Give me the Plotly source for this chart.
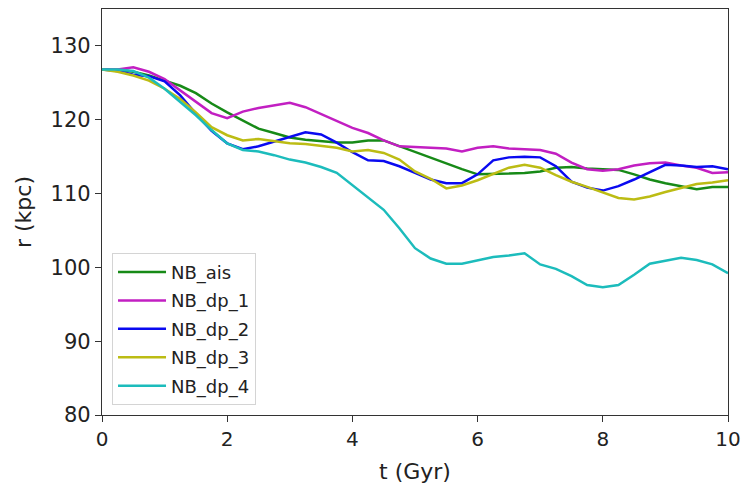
import plotly.graph_objects as go

t = [i * 0.25 for i in range(41)]

nb_ais = [126.8, 126.8, 126.5, 126.0, 125.3, 124.6, 123.6, 122.2, 121.0, 119.9,
          118.8, 118.2, 117.6, 117.3, 117.1, 116.9, 116.9, 117.2, 117.2, 116.4,
          115.7, 114.8, 114.0, 113.3, 112.6, 112.6, 112.7, 112.8, 113.0, 113.5,
          113.6, 113.4, 113.3, 113.2, 112.6, 111.9, 111.4, 111.0, 110.6, 110.9, 110.9]
nb_dp_1 = [126.8, 126.8, 127.1, 126.5, 125.5, 124.0, 122.4, 120.9, 120.2, 121.1,
           121.6, 122.0, 122.3, 121.7, 120.8, 119.8, 118.9, 118.2, 117.2, 116.4,
           116.3, 116.3, 116.1, 115.7, 116.2, 116.4, 116.1, 116.0, 115.9, 115.4,
           114.2, 113.3, 113.1, 113.3, 113.8, 114.1, 114.2, 113.8, 113.5, 112.8, 112.9]
nb_dp_2 = [126.8, 126.6, 126.1, 125.9, 125.2, 123.3, 120.8, 118.5, 116.8, 116.0,
           116.4, 117.0, 117.7, 118.3, 118.0, 116.9, 115.6, 114.5, 114.4, 113.7,
           112.8, 111.9, 111.4, 111.4, 112.6, 114.5, 114.9, 115.0, 114.9, 113.7,
           111.6, 110.8, 110.4, 111.0, 111.9, 112.9, 113.9, 113.8, 113.6, 113.7, 113.3]
nb_dp_3 = [126.8, 126.5, 126.0, 125.3, 124.2, 122.8, 121.0, 119.0, 117.9, 117.2,
           117.4, 117.1, 116.8, 116.7, 116.5, 116.2, 115.7, 115.9, 115.5, 114.6,
           113.0, 112.0, 110.7, 111.1, 111.8, 112.6, 113.5, 113.9, 113.5, 112.5,
           111.6, 110.9, 110.1, 109.4, 109.2, 109.6, 110.2, 110.7, 111.3, 111.5, 111.8]
nb_dp_4 = [126.8, 126.8, 126.6, 125.7, 124.2, 122.4, 120.6, 118.6, 116.8, 115.9,
           115.7, 115.2, 114.6, 114.2, 113.6, 112.8, 111.1, 109.4, 107.8, 105.3,
           102.6, 101.2, 100.5, 100.5, 101.0, 101.4, 101.6, 101.9, 100.4, 99.8,
           98.8, 97.6, 97.3, 97.6, 99.0, 100.5, 100.9, 101.3, 101.0, 100.4, 99.2]

names = ["NB_ais", "NB_dp_1", "NB_dp_2", "NB_dp_3", "NB_dp_4"]
series = [nb_ais, nb_dp_1, nb_dp_2, nb_dp_3, nb_dp_4]
colors = ["#178a17", "#c21fc2", "#0a0af0", "#bcbc14", "#1cbcbc"]

fig = go.Figure()
for n, s, c in zip(names, series, colors):
    fig.add_trace(go.Scatter(x=t, y=s, name=n, mode="lines", legendgroup=n,
                             line=dict(color=c, width=2.5)))

axis_common = dict(showgrid=False, zeroline=False, showline=True, linecolor="#333",
                   linewidth=1.2, mirror=True, ticks="outside", ticklen=6,
                   tickcolor="#333", automargin=False,
                   title_font=dict(size=22, color="#222"))

fig.update_xaxes(range=[0, 10], tickvals=[0, 2, 4, 6, 8, 10],
                 tickfont=dict(size=20, color="#222"),
                 title_text="t (Gyr)", title_standoff=13, **axis_common)
fig.update_yaxes(range=[80, 135], tickvals=[80, 90, 100, 110, 120, 130],
                 tickfont=dict(size=21, color="#222"),
                 title_text="r (kpc)", title_standoff=12, **axis_common)

fig.update_layout(
    width=743, height=487,
    margin=dict(l=102, r=15, t=9, b=72),
    plot_bgcolor="white", paper_bgcolor="white",
    font=dict(family="DejaVu Sans", color="#222"),
    legend=dict(x=0.016, y=0.025, xanchor="left", yanchor="bottom",
                bgcolor="rgba(255,255,255,0.9)", bordercolor="#d4d4d4", borderwidth=1,
                font=dict(size=18, color="#222"), itemwidth=48,
                tracegroupgap=2),
    showlegend=True,
)

fig.write_html("out.html")
